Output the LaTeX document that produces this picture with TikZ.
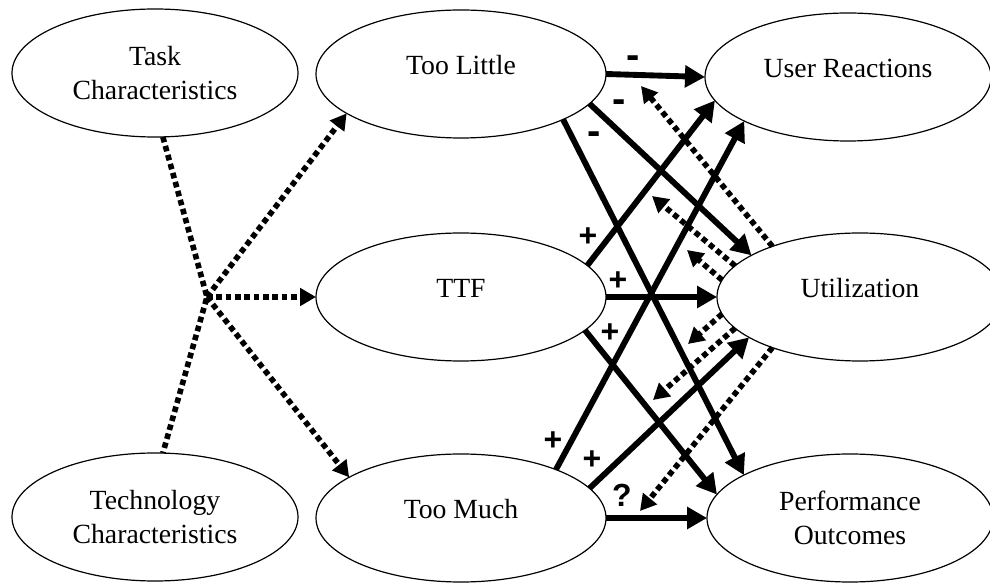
\documentclass[tikz,border=0pt]{standalone}
\usepackage{fontspec}
\setmainfont{Liberation Serif}
\newfontfamily\signfont{Liberation Sans}
\usetikzlibrary{arrows.meta,shapes.geometric}
\begin{document}
\begin{tikzpicture}[x=0.75pt,y=-0.75pt,
  factor/.style={ellipse, draw, line width=0.9pt, minimum width=214.5pt,
    minimum height=96pt, inner sep=0pt, outer sep=0pt, align=center,
    font=\fontsize{20.8}{26}\selectfont},
  wide/.style={minimum width=217.5pt},
  oneline/.style={text depth=13pt},
  link/.style={line width=4.4pt, -{Triangle[length=15pt,width=16pt]}},
  cueline/.style={line width=4.2pt, dash pattern=on 4.2pt off 2.8pt},
  cue/.style={cueline, -{Triangle[length=12pt,width=13pt]}},
  sign/.style={font=\signfont\bfseries\fontsize{24}{24}\selectfont, inner sep=0pt},
  minus/.style={sign, font=\signfont\bfseries\fontsize{30}{30}\selectfont}
]
\useasboundingbox (0,0) rectangle (990,584);

% constructs
\node[factor] (task) at (155,73) {Task\\Characteristics};
\node[factor] (tech) at (155,517) {Technology\\Characteristics};
\node[factor, wide, oneline] (few) at (461,74) {Too Little};
\node[factor, wide, oneline] (fit) at (461,297) {TTF};
\node[factor, wide, oneline] (lot) at (461,518) {Too Much};
\node[factor, oneline] (react) at (848,77) {User Reactions};
\node[factor, oneline] (use) at (860,297) {Utilization};
\node[factor] (perf) at (850,518) {Performance\\Outcomes};

% task and technology combine into the three fit conditions
\coordinate (hub) at (207,297);
\draw[cueline] (task.-83) -- (hub) -- (tech.83);
\draw[cue] (hub) -- (few.199);
\draw[cue] (hub) -- (fit.west);
\draw[cue] (hub) -- (lot.160);

% direct effects
\draw[link] (few.east) -- (react.west);
\draw[link] (few.-13.5) -- (use.159);
\draw[link] (few.-24) -- (perf.158);
\draw[link] (fit.14) -- (react.190);
\draw[link] (fit.east) -- (use.west);
\draw[link] (fit.-15) -- (perf.170);
\draw[link] (lot.27) -- (react.203);
\draw[link] (lot.13) -- (use.200);
\draw[link] (lot.east) -- (perf.west);

% utilization moderates the paths into reactions and outcomes
\coordinate (m1) at (641,86);
\coordinate (m2) at (652,196);
\coordinate (m3) at (687,250);
\coordinate (m4) at (688,344);
\coordinate (m5) at (653,400);
\coordinate (m6) at (640,511);
\draw[cue] (use.150) -- (m1);
\draw[cue] (use.166) -- (m2);
\draw[cue] (use.173) -- (m3);
\draw[cue] (use.187) -- (m4);
\draw[cue] (use.194) -- (m5);
\draw[cue] (use.210) -- (m6);

% signs of the effects
\node[minus] (s1) at (633,62) {-};
\node[minus] (s2) at (619,106) {-};
\node[minus] (s3) at (594,138) {-};
\node[sign] (s4) at (588,237) {+};
\node[sign] (s5) at (618,281) {+};
\node[sign] (s6) at (610,333) {+};
\node[sign] (s7) at (553,441) {+};
\node[sign] (s8) at (592,460) {+};
\node[sign] (s9) at (622,495) {?};
\end{tikzpicture}
\end{document}
